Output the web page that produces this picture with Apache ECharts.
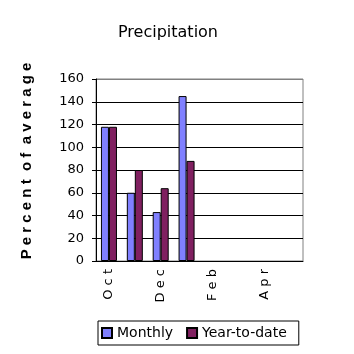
<!DOCTYPE html>
<html>
<head>
<meta charset="utf-8" />
<script src="https://cdn.jsdelivr.net/npm/echarts@6/dist/echarts.min.js"></script>
<style>
  * { margin: 0; padding: 0; }
  body { background: #fff; }
  #chart { width: 354px; height: 354px; }
</style>
</head>
<body>
<div id="chart"></div>
<script>
var months = ['O c t', 'N o v', 'D e c', 'J a n', 'F e b', 'M a r', 'A p r', 'M a y'];
var monthly = [118, 60, 43, 145, null, null, null, null];
var yearToDate = [118, 80, 64, 88, null, null, null, null];
var yTitle = 'P e r c e n t  o f  a v e r a g e';

var chart = echarts.init(document.getElementById('chart'));
var font = 'DejaVu Sans, sans-serif';

chart.setOption({
  animation: false,
  title: {
    text: 'Precipitation',
    left: 113,
    top: 20,
    textStyle: { fontFamily: font, fontSize: 16, fontWeight: 'normal', color: '#000' }
  },
  graphic: [{
    type: 'text',
    x: 27, y: 161,
    rotation: Math.PI / 2,
    style: {
      text: yTitle, align: 'center', verticalAlign: 'middle',
      font: 'bold 15px Liberation Sans, Arial, sans-serif', fill: '#000'
    }
  }],
  grid: {
    left: 96, right: 51, top: 79, bottom: 93,
    show: true, borderColor: '#808080', borderWidth: 1
  },
  legend: {
    left: 98, top: 321,
    padding: [5, 12, 5, 3],
    borderColor: '#000', borderWidth: 1,
    itemWidth: 10, itemHeight: 10, itemGap: 13,
    icon: 'rect',
    textStyle: { fontFamily: font, fontSize: 14, color: '#000' },
    data: ['Monthly', 'Year-to-date']
  },
  xAxis: {
    type: 'category',
    data: months,
    axisLine: { lineStyle: { color: '#000' } },
    axisTick: { length: 5, lineStyle: { color: '#000' } },
    axisLabel: { rotate: 90, interval: 1, margin: 8, fontFamily: font, fontSize: 13, color: '#000' }
  },
  yAxis: {
    type: 'value',
    min: 0, max: 160, interval: 20,
    axisLine: { show: true, lineStyle: { color: '#000' } },
    axisTick: { show: true, length: 4, lineStyle: { color: '#000' } },
    axisLabel: { margin: 12, fontFamily: font, fontSize: 13, color: '#000' },
    splitLine: { lineStyle: { color: ['#000', '#000', '#000', '#000', '#000', '#000', '#000', '#000', '#808080'] } }
  },
  series: [
    {
      name: 'Monthly', type: 'bar', data: monthly,
      barWidth: 8, barGap: '0%',
      itemStyle: { color: '#8080FF', borderColor: '#000', borderWidth: 1 }
    },
    {
      name: 'Year-to-date', type: 'bar', data: yearToDate,
      barWidth: 8,
      itemStyle: { color: '#802060', borderColor: '#000', borderWidth: 1 }
    }
  ]
});
</script>
</body>
</html>
